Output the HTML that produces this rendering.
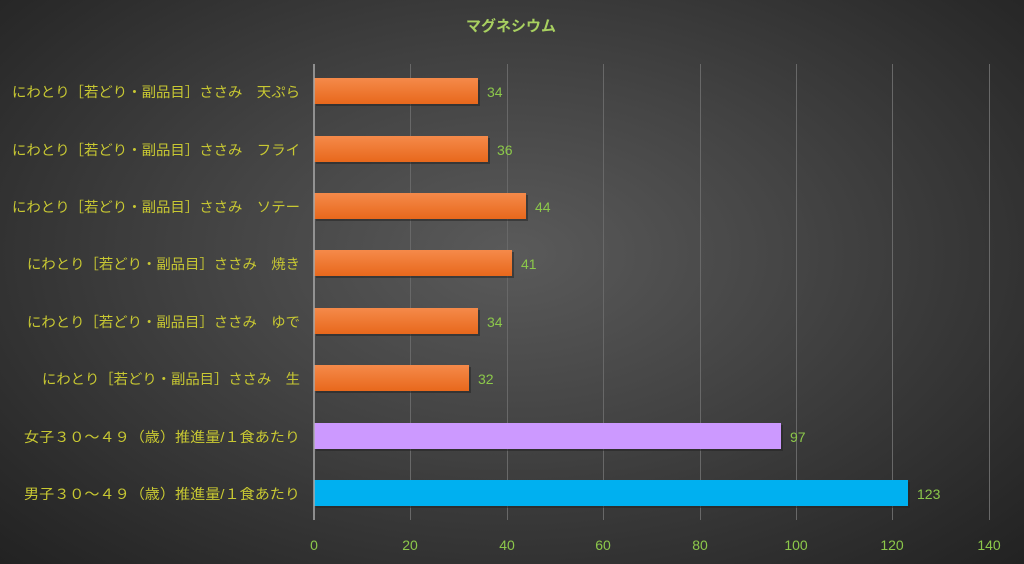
<!DOCTYPE html>
<html><head><meta charset="utf-8"><style>
html,body{margin:0;padding:0;}
body{width:1024px;height:564px;overflow:hidden;background:radial-gradient(ellipse at 50% 45%,#5a5a5a 0%,#444 40%,#2a2a2a 85%,#222 100%);}
svg{display:block;font-family:"Liberation Sans","Noto Sans CJK JP",sans-serif;}
</style></head><body>
<svg width="1024" height="564" xmlns="http://www.w3.org/2000/svg">
<defs>
<linearGradient id="o" x1="0" y1="0" x2="0" y2="1"><stop offset="0" stop-color="#f58a4a"/><stop offset="1" stop-color="#e8681c"/></linearGradient>
</defs>
<text x="511" y="31" text-anchor="middle" font-size="15" font-weight="bold" fill="#a8d060">マグネシウム</text>
<g stroke="#686868" stroke-width="1">
<line x1="410.5" y1="64" x2="410.5" y2="520"/><line x1="507.5" y1="64" x2="507.5" y2="520"/>
<line x1="603.5" y1="64" x2="603.5" y2="520"/><line x1="700.5" y1="64" x2="700.5" y2="520"/>
<line x1="796.5" y1="64" x2="796.5" y2="520"/><line x1="892.5" y1="64" x2="892.5" y2="520"/>
<line x1="989.5" y1="64" x2="989.5" y2="520"/>
</g>
<g fill="#222" opacity="0.5">
<rect x="316" y="80" width="164" height="26"/><rect x="316" y="138" width="174" height="26"/>
<rect x="316" y="195" width="212" height="26"/><rect x="316" y="252" width="198" height="26"/>
<rect x="316" y="310" width="164" height="26"/><rect x="316" y="367" width="155" height="26"/>
<rect x="316" y="425" width="467" height="26"/><rect x="316" y="482" width="594" height="26"/>
</g>
<g fill="url(#o)">
<rect x="314" y="78" width="164" height="26"/>
<rect x="314" y="136" width="174" height="26"/>
<rect x="314" y="193" width="212" height="26"/>
<rect x="314" y="250" width="198" height="26"/>
<rect x="314" y="308" width="164" height="26"/>
<rect x="314" y="365" width="155" height="26"/>
</g>
<rect x="314" y="423" width="467" height="26" fill="#cc99ff"/>
<rect x="314" y="480" width="594" height="26" fill="#00b0f0"/>
<line x1="314" y1="64" x2="314" y2="520" stroke="#aaa" stroke-width="1.5"/>
<g font-size="14" fill="#8cc84a">
<text x="487" y="97">34</text><text x="497" y="155">36</text><text x="535" y="212">44</text>
<text x="521" y="269">41</text><text x="487" y="327">34</text><text x="478" y="384">32</text>
<text x="790" y="442">97</text><text x="917" y="499">123</text>
</g>
<g font-size="14" fill="#8cc84a" text-anchor="middle">
<text x="314" y="550">0</text><text x="410" y="550">20</text><text x="507" y="550">40</text>
<text x="603" y="550">60</text><text x="700" y="550">80</text><text x="796" y="550">100</text>
<text x="892" y="550">120</text><text x="989" y="550">140</text>
</g>
<g font-size="14" fill="#c8c832" lengthAdjust="spacingAndGlyphs">
<text x="12" y="97" textLength="288" lengthAdjust="spacingAndGlyphs">にわとり［若どり・副品目］ささみ　天ぷら</text>
<text x="12" y="155" textLength="288" lengthAdjust="spacingAndGlyphs">にわとり［若どり・副品目］ささみ　フライ</text>
<text x="12" y="212" textLength="288" lengthAdjust="spacingAndGlyphs">にわとり［若どり・副品目］ささみ　ソテー</text>
<text x="27" y="269" textLength="273" lengthAdjust="spacingAndGlyphs">にわとり［若どり・副品目］ささみ　焼き</text>
<text x="27" y="327" textLength="273" lengthAdjust="spacingAndGlyphs">にわとり［若どり・副品目］ささみ　ゆで</text>
<text x="42" y="384" textLength="258" lengthAdjust="spacingAndGlyphs">にわとり［若どり・副品目］ささみ　生</text>
<text x="24" y="442" textLength="276" lengthAdjust="spacingAndGlyphs">女子３０～４９（歳）推進量/１食あたり</text>
<text x="24" y="499" textLength="276" lengthAdjust="spacingAndGlyphs">男子３０～４９（歳）推進量/１食あたり</text>
</g>
</svg>
</body></html>
